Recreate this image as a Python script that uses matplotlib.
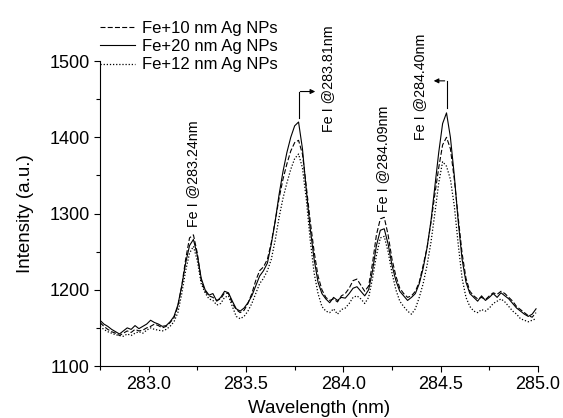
import numpy as np
import matplotlib
matplotlib.use("Agg")
import matplotlib.pyplot as plt
from matplotlib.ticker import MultipleLocator

plt.rcParams['font.family'] = ['Liberation Sans', 'DejaVu Sans']

# wavelength grid (nm), 0.02 nm sampling
wavelength = np.round(np.arange(282.75, 285.0, 0.02), 2)

# Fe+20 nm Ag NPs (solid)
fe20 = [1160, 1155, 1152, 1148, 1145, 1142, 1146, 1150, 1148, 1153,
        1149, 1152, 1155, 1160, 1157, 1155, 1152, 1153, 1158, 1165,
        1180, 1205, 1235, 1258, 1266, 1245, 1215, 1200, 1193, 1195,
        1185, 1190, 1198, 1196, 1185, 1175, 1172, 1176, 1183, 1192,
        1205, 1218, 1225, 1235, 1260, 1290, 1325, 1355, 1380, 1400,
        1415, 1420, 1385, 1330, 1280, 1240, 1210, 1195, 1188, 1183,
        1190, 1186, 1190, 1189, 1195, 1202, 1204, 1198, 1192, 1200,
        1225, 1258, 1278, 1280, 1260, 1232, 1212, 1198, 1192, 1186,
        1190, 1195, 1208, 1228, 1255, 1290, 1335, 1380, 1418, 1432,
        1400, 1350, 1290, 1240, 1210, 1195, 1190, 1185, 1192, 1186,
        1190, 1195, 1190, 1196, 1192, 1188, 1182, 1176, 1172, 1168,
        1165, 1168, 1175]

# Fe+10 nm Ag NPs (dashed)
fe10 = [1157, 1152, 1148, 1145, 1143, 1140, 1143, 1146, 1144, 1148,
        1146, 1147, 1150, 1152, 1155, 1153, 1150, 1152, 1157, 1163,
        1178, 1205, 1240, 1268, 1272, 1248, 1212, 1198, 1192, 1190,
        1186, 1188, 1196, 1195, 1182, 1174, 1170, 1173, 1182, 1195,
        1212, 1225, 1230, 1240, 1262, 1290, 1320, 1345, 1365, 1382,
        1393, 1396, 1378, 1335, 1290, 1250, 1218, 1200, 1190, 1186,
        1188, 1184, 1192, 1195, 1202, 1212, 1214, 1206, 1198, 1205,
        1235, 1272, 1293, 1295, 1272, 1240, 1218, 1202, 1195, 1190,
        1192, 1198, 1210, 1232, 1255, 1288, 1325, 1360, 1390, 1400,
        1385, 1345, 1295, 1248, 1215, 1198, 1192, 1188, 1190, 1187,
        1192, 1196, 1194, 1198, 1195, 1190, 1185, 1178, 1174, 1170,
        1166, 1164, 1170]

# Fe+12 nm Ag NPs (dotted)
fe12 = [1152, 1148, 1145, 1143, 1141, 1140, 1139, 1142, 1140, 1143,
        1145, 1143, 1147, 1150, 1148, 1147, 1146, 1148, 1152, 1158,
        1170, 1195, 1225, 1248, 1257, 1238, 1208, 1196, 1188, 1186,
        1180, 1182, 1190, 1192, 1178, 1165, 1162, 1165, 1172, 1182,
        1195, 1208, 1215, 1225, 1240, 1265, 1295, 1320, 1340, 1358,
        1372, 1378, 1360, 1318, 1265, 1222, 1195, 1178, 1172, 1170,
        1175, 1168, 1174, 1176, 1182, 1190, 1192, 1188, 1182, 1190,
        1215, 1245, 1268, 1270, 1250, 1222, 1200, 1185, 1178, 1172,
        1168, 1175, 1190, 1208, 1232, 1262, 1300, 1340, 1368, 1362,
        1345, 1310, 1260, 1215, 1190, 1178, 1172, 1170, 1174, 1172,
        1176, 1182, 1185, 1188, 1184, 1178, 1172, 1168, 1162, 1160,
        1158, 1160, 1162]

# peak labels: text, x position, y of label bottom
labels = ["Fe I @283.24nm", "Fe I @283.81nm", "Fe I @284.09nm", "Fe I @284.40nm"]
label_x = [283.23, 283.92, 284.205, 284.395]
label_y = [1282, 1407, 1302, 1396]

fig = plt.figure(figsize=(5.63, 4.18), dpi=100)
ax = fig.add_axes([0.1776, 0.1244, 0.7780, 0.7296])

ax.plot(wavelength, fe10, color='black', lw=0.8, ls=(0, (4.5, 2)), label='Fe+10 nm Ag NPs')
ax.plot(wavelength, fe20, color='black', lw=0.8, ls='-', label='Fe+20 nm Ag NPs')
ax.plot(wavelength, fe12, color='black', lw=0.9, ls=(0, (1, 1.5)), label='Fe+12 nm Ag NPs')

for t, x, y in zip(labels, label_x, label_y):
    ax.text(x, y, t, rotation=90, ha='center', va='bottom', fontsize=10.3, clip_on=False)

# elbow arrows for two peaks
ax.plot([283.77, 283.77], [1425, 1460], color='black', lw=0.8)
ax.annotate('', xy=(283.87, 1460), xytext=(283.765, 1460),
            arrowprops=dict(arrowstyle='-|>', color='black', lw=0.8, mutation_scale=7))
ax.plot([284.53, 284.53], [1438, 1474], color='black', lw=0.8)
ax.annotate('', xy=(284.45, 1474), xytext=(284.535, 1474),
            arrowprops=dict(arrowstyle='-|>', color='black', lw=0.8, mutation_scale=7))

ax.set_xlim(282.75, 285.0)
ax.set_ylim(1100, 1500)
ax.xaxis.set_major_locator(MultipleLocator(0.5))
ax.xaxis.set_minor_locator(MultipleLocator(0.25))
ax.yaxis.set_major_locator(MultipleLocator(100))
ax.yaxis.set_minor_locator(MultipleLocator(50))
ax.xaxis.set_major_formatter(matplotlib.ticker.FormatStrFormatter('%.1f'))
ax.tick_params(which='major', direction='out', length=4, width=0.8, labelsize=13)
ax.tick_params(which='minor', direction='out', length=3, width=0.8)
for s in ['top', 'right']:
    ax.spines[s].set_visible(False)
for s in ['left', 'bottom']:
    ax.spines[s].set_linewidth(0.8)

ax.set_xlabel('Wavelength (nm)', fontsize=13.5, labelpad=5)
ax.set_ylabel('Intensity (a.u.)', fontsize=13.5, labelpad=11)

ax.legend(loc='upper left', bbox_to_anchor=(0.0, 1.132), frameon=False, fontsize=12,
          borderpad=0, borderaxespad=0, handlelength=2.1, handletextpad=0.45,
          labelspacing=0.2)

fig.savefig('out.png', dpi=100)
